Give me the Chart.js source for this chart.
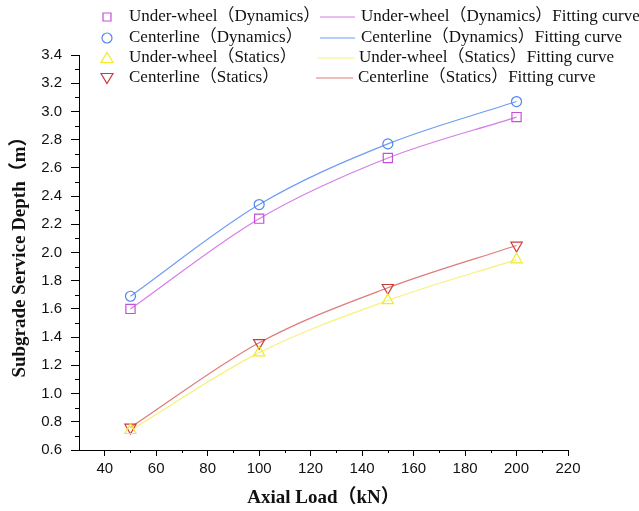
<!DOCTYPE html>
<html><head><meta charset="utf-8">
<script src="https://cdn.jsdelivr.net/npm/chart.js@4.4.0/dist/chart.umd.min.js"></script>
<style>html,body{margin:0;padding:0;background:#fff}#wrap{position:relative;width:639px;height:511px}</style>
</head><body><div id="wrap"><canvas id="c" width="639" height="511"></canvas></div>
<script>
// ---- data ----
const loads = [50, 100, 150, 200];
const underWheelDyn = [1.60, 2.24, 2.67, 2.96];
const centerDyn = [1.69, 2.34, 2.77, 3.07];
const underWheelSta = [0.74, 1.29, 1.66, 1.95];
const centerSta = [0.76, 1.36, 1.75, 2.05];
const xTicks = [40, 60, 80, 100, 120, 140, 160, 180, 200, 220];
const yTicks = [0.6, 0.8, 1.0, 1.2, 1.4, 1.6, 1.8, 2.0, 2.2, 2.4, 2.6, 2.8, 3.0, 3.2, 3.4];
const pointLabels = ['Under-wheel（Dynamics）', 'Centerline（Dynamics）', 'Under-wheel（Statics）', 'Centerline（Statics）'];
const fitLabels = ['Under-wheel（Dynamics）Fitting curve', 'Centerline（Dynamics）Fitting curve', 'Under-wheel（Statics）Fitting curve', 'Centerline（Statics）Fitting curve'];
const xTitle = 'Axial Load（kN）';
const yTitle = 'Subgrade Service Depth（m）';

const seriesVals = [underWheelDyn, centerDyn, underWheelSta, centerSta];
const markerColors = ['#c64fd9', '#4f84f2', '#f2ea2a', '#cc3b3b'];
const lineColors = ['#d57ee6', '#6f9cf6', '#f7f27a', '#e07a7a'];
const styles = ['rect', 'circle', 'triangle', 'triangle'];
const rots = [0, 0, 0, 180];
const radii = [6.5, 5, 6.5, 6.5];

const toPts = arr => loads.map((x, i) => ({x: x, y: arr[i]}));
const datasets = [];
seriesVals.forEach((arr, i) => {
  datasets.push({
    label: pointLabels[i], data: toPts(arr), showLine: false,
    pointStyle: styles[i], rotation: rots[i], pointRadius: radii[i],
    borderColor: markerColors[i], backgroundColor: 'rgba(0,0,0,0)',
    pointBorderWidth: 1.2, order: 0
  });
});
seriesVals.forEach((arr, i) => {
  datasets.push({
    label: fitLabels[i], data: toPts(arr), showLine: true, pointRadius: 0,
    borderColor: lineColors[i], borderWidth: 1.2, cubicInterpolationMode: 'monotone',
    fill: false, order: 1
  });
});

const serif = '"Liberation Serif", "Times New Roman", "Noto Sans CJK SC", serif';
const sans = '"Liberation Sans", Arial, sans-serif';

function drawMarker(ctx, style, rot, x, y, color) {
  ctx.save();
  ctx.strokeStyle = color; ctx.lineWidth = 1.2;
  ctx.beginPath();
  if (style === 'rect') { ctx.rect(x - 4, y - 4, 8, 8); }
  else if (style === 'circle') { ctx.arc(x, y, 5, 0, Math.PI * 2); }
  else {
    const s = rot ? -1 : 1;
    ctx.moveTo(x, y - s * 5.5); ctx.lineTo(x + 6, y + s * 4.5); ctx.lineTo(x - 6, y + s * 4.5); ctx.closePath();
  }
  ctx.stroke();
  ctx.restore();
}

const legendPlugin = {
  id: 'customLegend',
  afterDraw(chart) {
    const ctx = chart.ctx;
    ctx.save();
    ctx.font = '17px ' + serif;
    ctx.fillStyle = '#111';
    ctx.textBaseline = 'middle';
    ctx.textAlign = 'left';
    const rowY = [17, 38, 58, 78];
    const lineStart = [320, 320, 317, 316];
    const lineEnd = [355, 355, 355, 353];
    const textX = [361, 361, 359, 358];
    for (let i = 0; i < 4; i++) {
      const y = rowY[i];
      drawMarker(ctx, styles[i], rots[i], 107, y, markerColors[i]);
      ctx.fillText(pointLabels[i], 129, y);
      ctx.strokeStyle = lineColors[i]; ctx.lineWidth = 1.2;
      ctx.beginPath(); ctx.moveTo(lineStart[i], y); ctx.lineTo(lineEnd[i], y); ctx.stroke();
      ctx.fillText(fitLabels[i], textX[i], y);
    }
    ctx.restore();
  }
};

const minorTicks = {
  id: 'minorTicks',
  afterDraw(chart) {
    const ctx = chart.ctx;
    const xs = chart.scales.x, ys = chart.scales.y;
    ctx.save();
    ctx.strokeStyle = '#000'; ctx.lineWidth = 1;
    for (let i = 0; i < xTicks.length - 1; i++) {
      const v = (xTicks[i] + xTicks[i + 1]) / 2;
      const px = Math.round(xs.getPixelForValue(v)) + 0.5;
      ctx.beginPath(); ctx.moveTo(px, ys.bottom); ctx.lineTo(px, ys.bottom + 3); ctx.stroke();
    }
    for (let i = 0; i < yTicks.length - 1; i++) {
      const v = (yTicks[i] + yTicks[i + 1]) / 2;
      const py = Math.round(ys.getPixelForValue(v)) + 0.5;
      ctx.beginPath(); ctx.moveTo(xs.left, py); ctx.lineTo(xs.left - 4, py); ctx.stroke();
    }
    ctx.restore();
  }
};

new Chart(document.getElementById('c'), {
  type: 'scatter',
  data: { datasets: datasets },
  plugins: [legendPlugin, minorTicks],
  options: {
    responsive: false, animation: false,
    layout: { padding: { top: 55, right: 71, left: 0, bottom: 0 } },
    plugins: { legend: { display: false }, tooltip: { enabled: false } },
    scales: {
      x: {
        type: 'linear', min: 30, max: 220,
        afterBuildTicks: s => { s.ticks = xTicks.map(v => ({value: v})); },
        afterFit: s => { s.height = 61; },
        grid: { drawOnChartArea: false, drawTicks: true, tickLength: 6, tickColor: '#000' },
        border: { display: true, color: '#000', width: 1 },
        ticks: { color: '#111', font: { family: sans, size: 15 }, padding: 4, maxRotation: 0, autoSkip: false },
        title: { display: true, text: xTitle, color: '#111', font: { family: serif, size: 19, weight: 'bold' }, padding: { top: 0, bottom: 2 } }
      },
      y: {
        type: 'linear', min: 0.6, max: 3.4,
        afterBuildTicks: s => { s.ticks = yTicks.map(v => ({value: v})); },
        afterFit: s => { s.width = 79; },
        grid: { drawOnChartArea: false, drawTicks: true, tickLength: 8, tickColor: '#000' },
        border: { display: true, color: '#000', width: 1 },
        ticks: { color: '#111', font: { family: sans, size: 15 }, padding: 9, autoSkip: false,
          callback: v => Number(v).toFixed(1) },
        title: { display: true, text: yTitle, color: '#111', font: { family: serif, size: 19, weight: 'bold' }, padding: { top: 9, bottom: 0 } }
      }
    }
  }
});
</script>
</body></html>
